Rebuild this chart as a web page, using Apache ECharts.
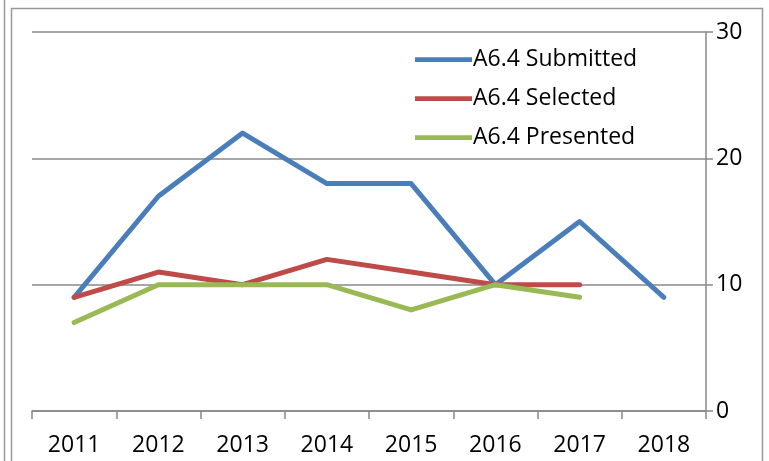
<!DOCTYPE html>
<html>
<head>
<meta charset="utf-8">
<script src="https://cdn.jsdelivr.net/npm/echarts@6/dist/echarts.min.js"></script>
<style>
  html, body { margin: 0; padding: 0; background: #fff; }
  #chart { width: 769px; height: 461px; }
</style>
</head>
<body>
<div id="chart"></div>
<script>
const years = ["2011", "2012", "2013", "2014", "2015", "2016", "2017", "2018"];
const submitted = [9, 17, 22, 18, 18, 10, 15, 9];
const selected = [9, 11, 10, 12, 11, 10, 10, null];
const presented = [7, 10, 10, 10, 8, 10, 9, null];
const yTicks = [0, 10, 20, 30];

const chart = echarts.init(document.getElementById("chart"));
const font = "Open Sans, Lato, sans-serif";
const lineIcon = "path://M0,0 L60,0 L60,5 L0,5 Z";

function lineSeries(name, data, color) {
  return {
    name: name,
    type: "line",
    data: data,
    symbol: "none",
    lineStyle: { color: color, width: 5, cap: "round", join: "round" },
    itemStyle: { color: color },
    connectNulls: false
  };
}

chart.setOption({
  animation: false,
  backgroundColor: "#fff",
  grid: { left: 32, right: 63, top: 32, bottom: 50 },
  legend: {
    orient: "vertical",
    left: 410,
    top: 43,
    itemGap: 16,
    itemWidth: 57,
    itemHeight: 5,
    icon: lineIcon,
    textStyle: { fontFamily: font, fontSize: 23, lineHeight: 23, color: "#000", padding: [0, 0, 0, -4] },
    data: ["A6.4 Submitted", "A6.4 Selected", "A6.4 Presented"]
  },
  xAxis: {
    type: "category",
    data: years,
    boundaryGap: true,
    axisLine: { lineStyle: { color: "#888", width: 1.5 } },
    axisTick: { show: true, length: 8, interval: 0, lineStyle: { color: "#888", width: 1.5 } },
    axisLabel: { fontFamily: font, fontSize: 23, color: "#000", margin: 23, interval: 0 },
    splitLine: { show: false }
  },
  yAxis: {
    type: "value",
    position: "right",
    min: yTicks[0],
    max: yTicks[yTicks.length - 1],
    interval: 10,
    axisLine: { show: true, lineStyle: { color: "#888", width: 1.5 } },
    axisTick: { show: true, length: 7, lineStyle: { color: "#888", width: 1.5 } },
    axisLabel: { fontFamily: font, fontSize: 23, color: "#000", margin: 10 },
    splitLine: { show: true, lineStyle: { color: "#888", width: 1.5 } }
  },
  series: [
    lineSeries("A6.4 Submitted", submitted, "#4A7EBB"),
    lineSeries("A6.4 Selected", selected, "#BE4B48"),
    lineSeries("A6.4 Presented", presented, "#98B954")
  ],
  graphic: [
    { type: "line", shape: { x1: 4.5, y1: 0, x2: 4.5, y2: 461 }, style: { stroke: "#999", lineWidth: 1.5 } },
    { type: "rect", shape: { x: 11.5, y: 8.5, width: 751, height: 470 }, style: { fill: null, stroke: "#999", lineWidth: 1.5 } }
  ]
});
</script>
</body>
</html>
